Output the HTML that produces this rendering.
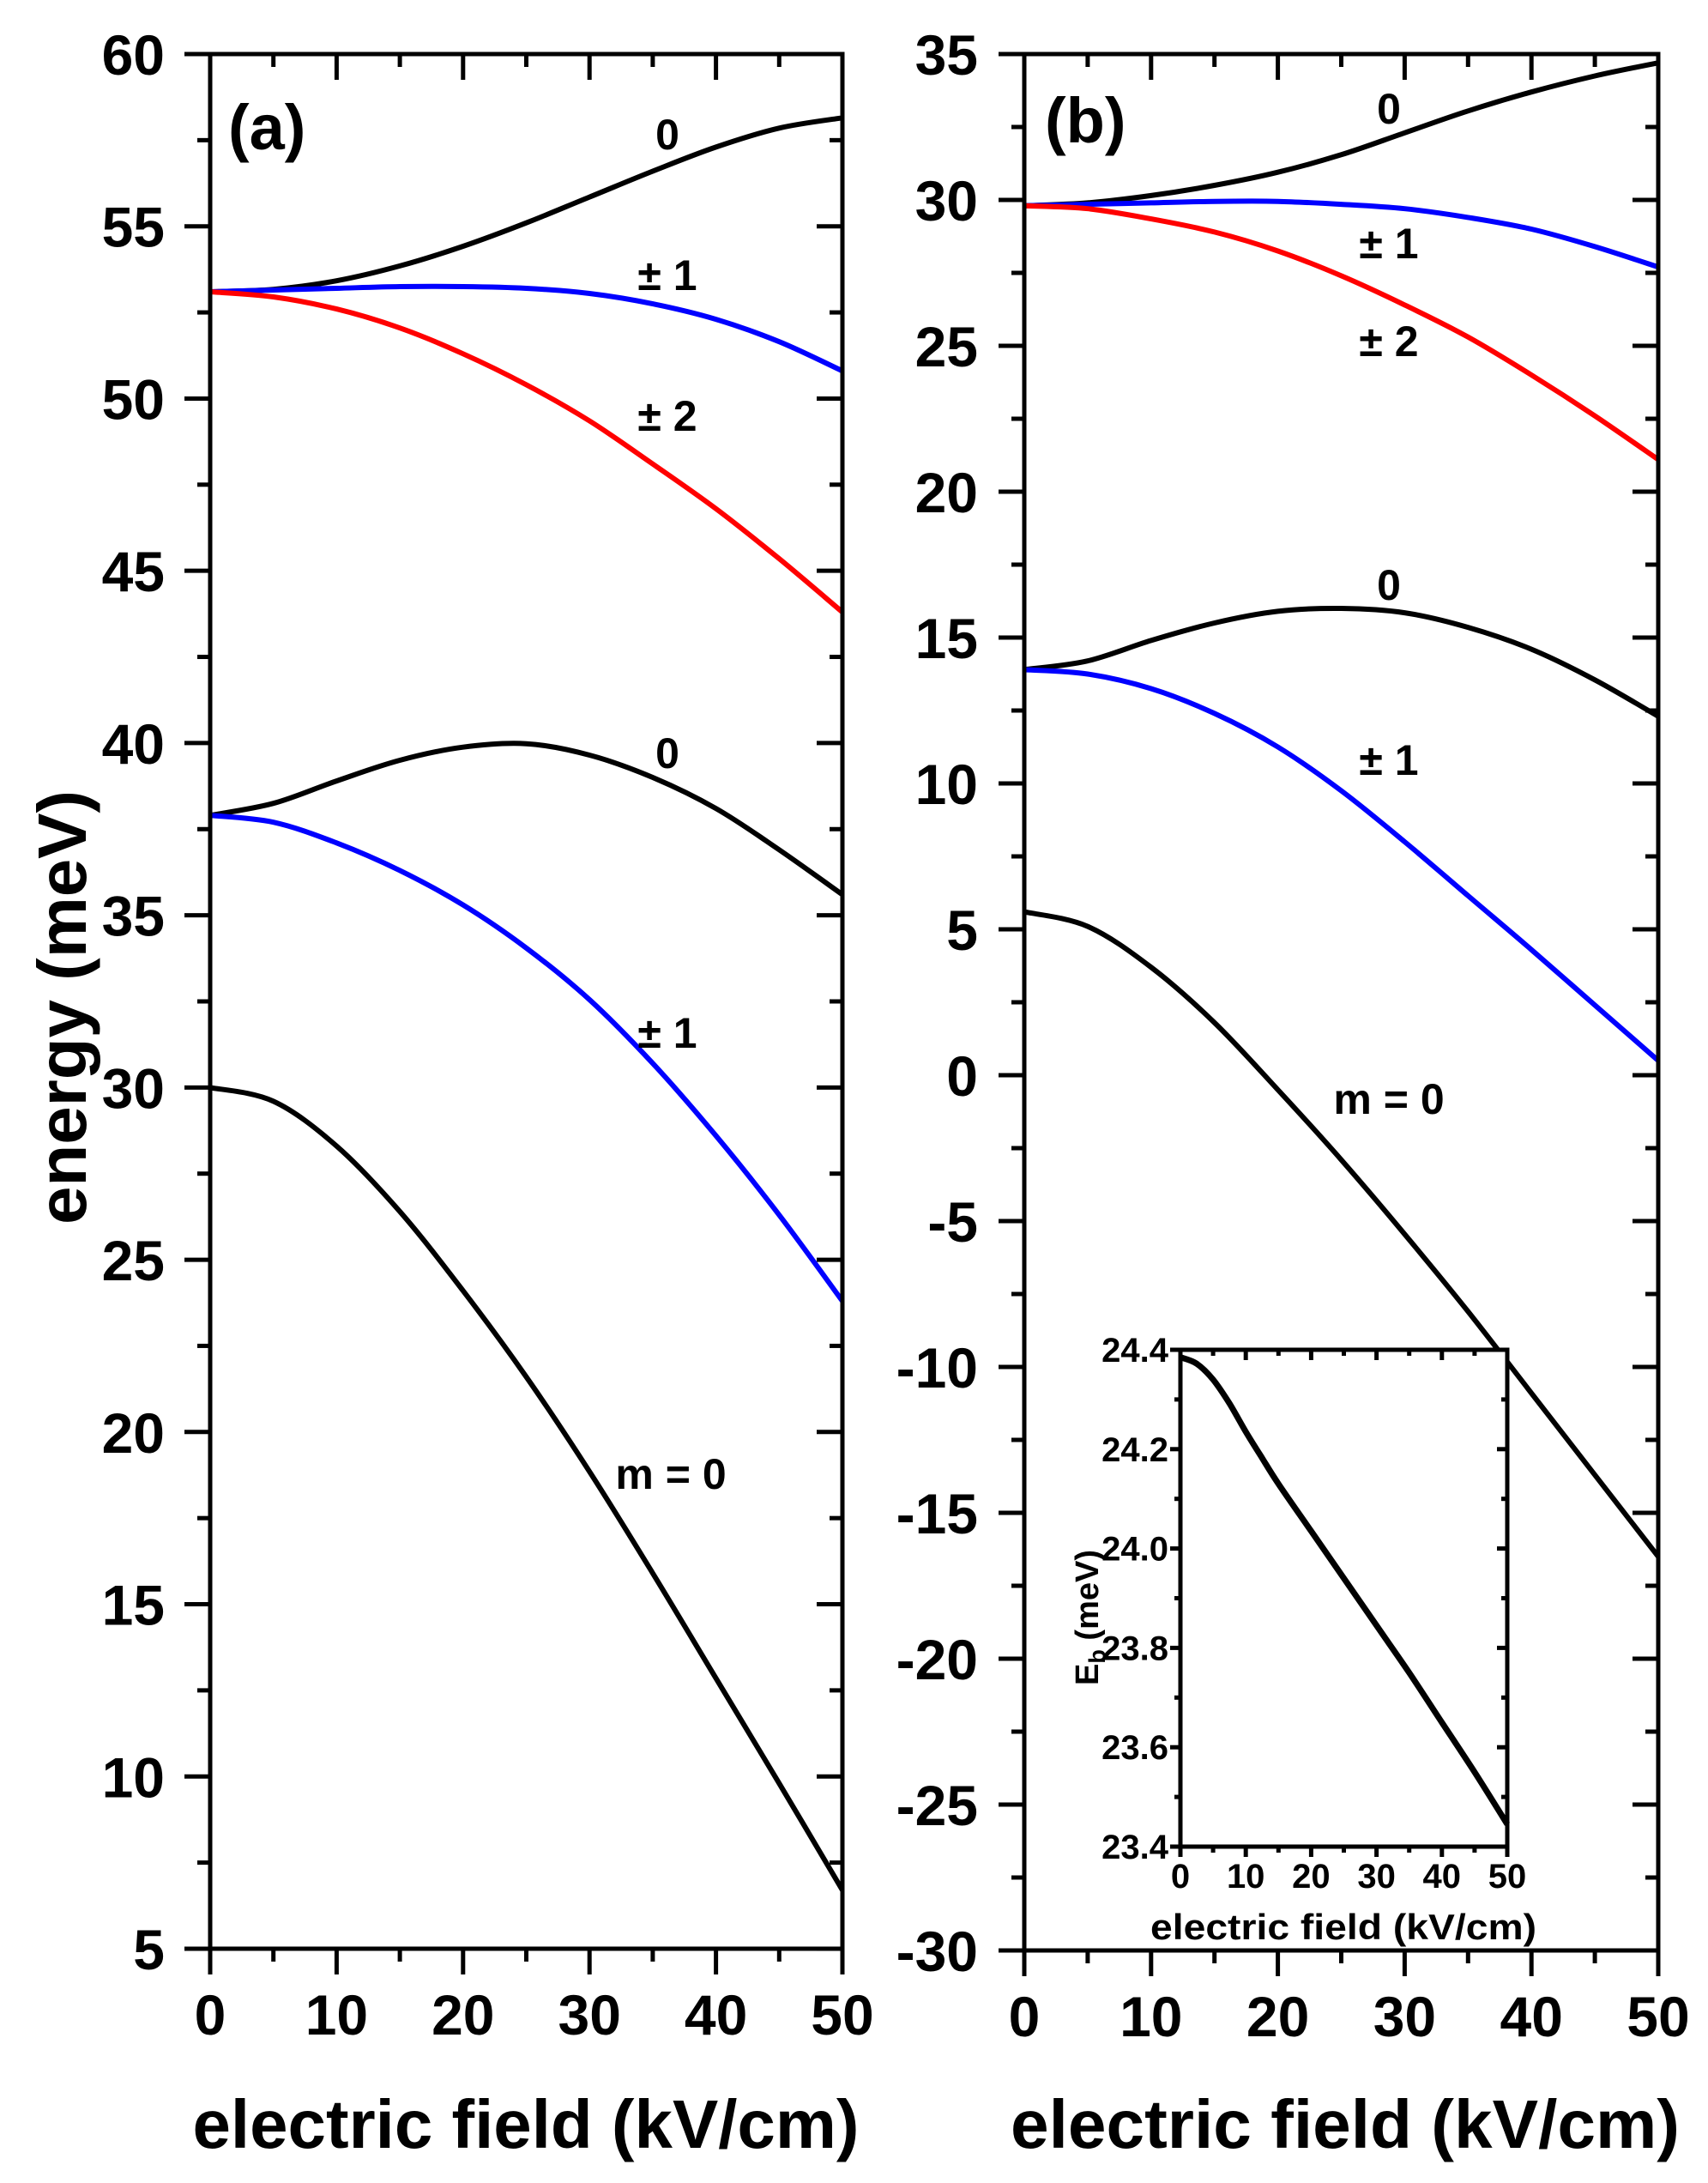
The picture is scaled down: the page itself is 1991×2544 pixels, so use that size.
<!DOCTYPE html>
<html><head><meta charset="utf-8"><style>
html,body{margin:0;padding:0;background:#fff;}
svg{display:block;}
text{font-family:"Liberation Sans",Arial,sans-serif;font-weight:bold;fill:#000;}
</style></head><body>
<svg id="s" width="1991" height="2544" viewBox="0 0 1991 2544" xmlns="http://www.w3.org/2000/svg">
<g id="g"></g>
<text x="613" y="2503" font-size="80" text-anchor="middle" textLength="777" lengthAdjust="spacingAndGlyphs">electric field (kV/cm)</text>
<text x="1568" y="2503" font-size="80" text-anchor="middle" textLength="780" lengthAdjust="spacingAndGlyphs">electric field (kV/cm)</text>
<text transform="translate(100,1174) rotate(-90)" font-size="80" text-anchor="middle" textLength="506" lengthAdjust="spacingAndGlyphs">energy (meV)</text>
<text x="1566" y="2260" font-size="42" text-anchor="middle" textLength="450" lengthAdjust="spacingAndGlyphs">electric field (kV/cm)</text>
<text transform="translate(1280,1885) rotate(-90)" font-size="38" text-anchor="middle">E<tspan font-size="27" dy="8">b</tspan><tspan dy="-8"> (meV)</tspan></text>
<text x="266" y="174" font-size="74">(a)</text>
<text x="1218" y="166" font-size="74">(b)</text>
<g font-size="50" text-anchor="middle">
<text x="778" y="174">0</text>
<text x="778" y="338">± 1</text>
<text x="778" y="502">± 2</text>
<text x="778" y="895">0</text>
<text x="778" y="1221">± 1</text>
<text x="782" y="1735">m = 0</text>
<text x="1619" y="144">0</text>
<text x="1619" y="301">± 1</text>
<text x="1619" y="415">± 2</text>
<text x="1619" y="699">0</text>
<text x="1619" y="903">± 1</text>
<text x="1619" y="1298">m = 0</text>
</g>
</svg>
<script>
var NS="http://www.w3.org/2000/svg",g=document.getElementById("g");
function el(n,a,t){var e=document.createElementNS(NS,n);for(var k in a)e.setAttribute(k,a[k]);if(t!==undefined)e.textContent=t;g.appendChild(e);return e;}
function line(x1,y1,x2,y2,w){el("line",{x1:x1,y1:y1,x2:x2,y2:y2,stroke:"#000","stroke-width":w||5});}
function spline(pts){var d="M"+pts[0][0].toFixed(1)+","+pts[0][1].toFixed(1);
 for(var i=0;i<pts.length-1;i++){var p0=pts[i-1]||pts[i],p1=pts[i],p2=pts[i+1],p3=pts[i+2]||p2;
 var c1=[p1[0]+(p2[0]-p0[0])/6,p1[1]+(p2[1]-p0[1])/6],c2=[p2[0]-(p3[0]-p1[0])/6,p2[1]-(p3[1]-p1[1])/6];
 d+="C"+c1[0].toFixed(1)+","+c1[1].toFixed(1)+" "+c2[0].toFixed(1)+","+c2[1].toFixed(1)+" "+p2[0].toFixed(1)+","+p2[1].toFixed(1);}
 return d;}
function curve(X,Y,data,col,w){var pts=data.map(function(p){return [X(p[0]),Y(p[1])];});
 el("path",{d:spline(pts),fill:"none",stroke:col,"stroke-width":w||6,"stroke-linejoin":"round"});}
function axes(o){
 var X=o.X,Y=o.Y,x0=X(o.xmin),x1=X(o.xmax),y0=Y(o.ymin),y1=Y(o.ymax),w=o.w;
 el("rect",{x:x0,y:y1,width:x1-x0,height:y0-y1,fill:"none",stroke:"#000","stroke-width":w});
 var ML=o.ML,mL=o.mL;
 for(var v=o.xmin;v<=o.xmax+1e-9;v+=o.xminor){var maj=Math.abs(Math.round(v/o.xmajor)*o.xmajor-v)<1e-6;var L=maj?ML:mL;var x=X(v);
  line(x,y0,x,y0+L,w);line(x,y1,x,y1+L,w);
  if(maj){el("text",{x:x,y:y0+o.xlabdy,"font-size":o.fs,"text-anchor":"middle"},String(Math.round(v)));}}
 for(var i=0;;i++){var v=o.ymin+i*o.yminor;if(v>o.ymax+1e-9)break;var maj=Math.abs(Math.round((v-o.ymin)/o.ymajor)*o.ymajor-(v-o.ymin))<1e-6;var L=maj?ML:mL;var y=Y(v);
  line(x0-L,y,x0,y,w);line(x1-L,y,x1,y,w);
  if(maj)el("text",{x:o.ylabx,y:y+o.ylabdy,"font-size":o.fs,"text-anchor":"end"},o.fmt(v));}
}
var Xa=function(x){return 245+x*14.74},Ya=function(v){return 63+(60-v)*40.145};
curve(Xa,Ya,[[0,53.1],[5,53.17],[10,53.42],[15,53.85],[20,54.42],[25,55.1],[30,55.85],[35,56.6],[40,57.3],[45,57.85],[50,58.15]],"#000");
curve(Xa,Ya,[[0,53.1],[5,53.15],[10,53.2],[15,53.25],[20,53.25],[25,53.2],[30,53.05],[35,52.75],[40,52.3],[45,51.65],[50,50.8]],"#0000ff");
curve(Xa,Ya,[[0,53.1],[5,52.95],[10,52.6],[15,52.05],[20,51.3],[25,50.4],[30,49.35],[35,48.1],[40,46.8],[45,45.35],[50,43.8]],"#ff0000");
curve(Xa,Ya,[[0,37.9],[5,38.25],[10,38.9],[15,39.5],[20,39.88],[25,39.98],[30,39.65],[35,39.0],[40,38.1],[45,36.9],[50,35.6]],"#000");
curve(Xa,Ya,[[0,37.9],[5,37.7],[10,37.1],[15,36.3],[20,35.3],[25,34.05],[30,32.55],[35,30.7],[40,28.6],[45,26.3],[50,23.8]],"#0000ff");
curve(Xa,Ya,[[0,30.0],[5,29.6],[10,28.3],[15,26.4],[20,24.1],[25,21.6],[30,18.85],[35,15.9],[40,12.85],[45,9.8],[50,6.7]],"#000");
axes({X:Xa,Y:Ya,xmin:0,xmax:50,xminor:5,xmajor:10,ymin:5,ymax:60,yminor:2.5,ymajor:5,w:5,ML:30,mL:15,fs:66,xlabdy:100,ylabx:192,ylabdy:24,fmt:function(v){return String(Math.round(v))}});
var Xb=function(x){return 1194+x*14.78},Yb=function(v){return 63+(35-v)*34.0};
curve(Xb,Yb,[[0,29.8],[5,29.9],[10,30.15],[15,30.5],[20,30.95],[25,31.55],[30,32.3],[35,33.05],[40,33.7],[45,34.25],[50,34.7]],"#000");
curve(Xb,Yb,[[0,29.8],[5,29.85],[10,29.9],[15,29.95],[20,29.95],[25,29.85],[30,29.7],[35,29.4],[40,29.0],[45,28.4],[50,27.7]],"#0000ff");
curve(Xb,Yb,[[0,29.8],[5,29.7],[10,29.35],[15,28.9],[20,28.25],[25,27.4],[30,26.4],[35,25.3],[40,24.0],[45,22.6],[50,21.1]],"#ff0000");
curve(Xb,Yb,[[0,13.9],[5,14.2],[10,14.9],[15,15.5],[20,15.9],[25,16.0],[30,15.85],[35,15.35],[40,14.6],[45,13.55],[50,12.3]],"#000");
curve(Xb,Yb,[[0,13.9],[5,13.75],[10,13.25],[15,12.4],[20,11.25],[25,9.75],[30,8.0],[35,6.15],[40,4.3],[45,2.4],[50,0.5]],"#0000ff");
curve(Xb,Yb,[[0,5.6],[5,5.1],[10,3.7],[15,1.8],[20,-0.5],[25,-2.9],[30,-5.45],[35,-8.1],[40,-10.9],[45,-13.7],[50,-16.5]],"#000");
axes({X:Xb,Y:Yb,xmin:0,xmax:50,xminor:5,xmajor:10,ymin:-30,ymax:35,yminor:2.5,ymajor:5,w:5,ML:30,mL:15,fs:66,xlabdy:100,ylabx:1140,ylabdy:24,fmt:function(v){return String(Math.round(v))}});
var Xi=function(x){return 1376+x*7.62},Yi=function(v){return 1573+(24.4-v)*579};
el("rect",{x:1376,y:1573,width:381,height:579,fill:"#fff",stroke:"none"});
curve(Xi,Yi,[[0,24.385],[2.5,24.372],[5,24.34],[7.5,24.292],[10,24.235],[12.5,24.182],[15,24.13],[20,24.035],[25,23.94],[30,23.845],[35,23.75],[40,23.65],[45,23.55],[50,23.445]],"#000",7);
axes({X:Xi,Y:Yi,xmin:0,xmax:50,xminor:5,xmajor:10,ymin:23.4,ymax:24.4,yminor:0.1,ymajor:0.2,w:5,ML:12,mL:7,fs:40,xlabdy:48,ylabx:1362,ylabdy:14,fmt:function(v){return v.toFixed(1)}});
</script>
</body></html>
